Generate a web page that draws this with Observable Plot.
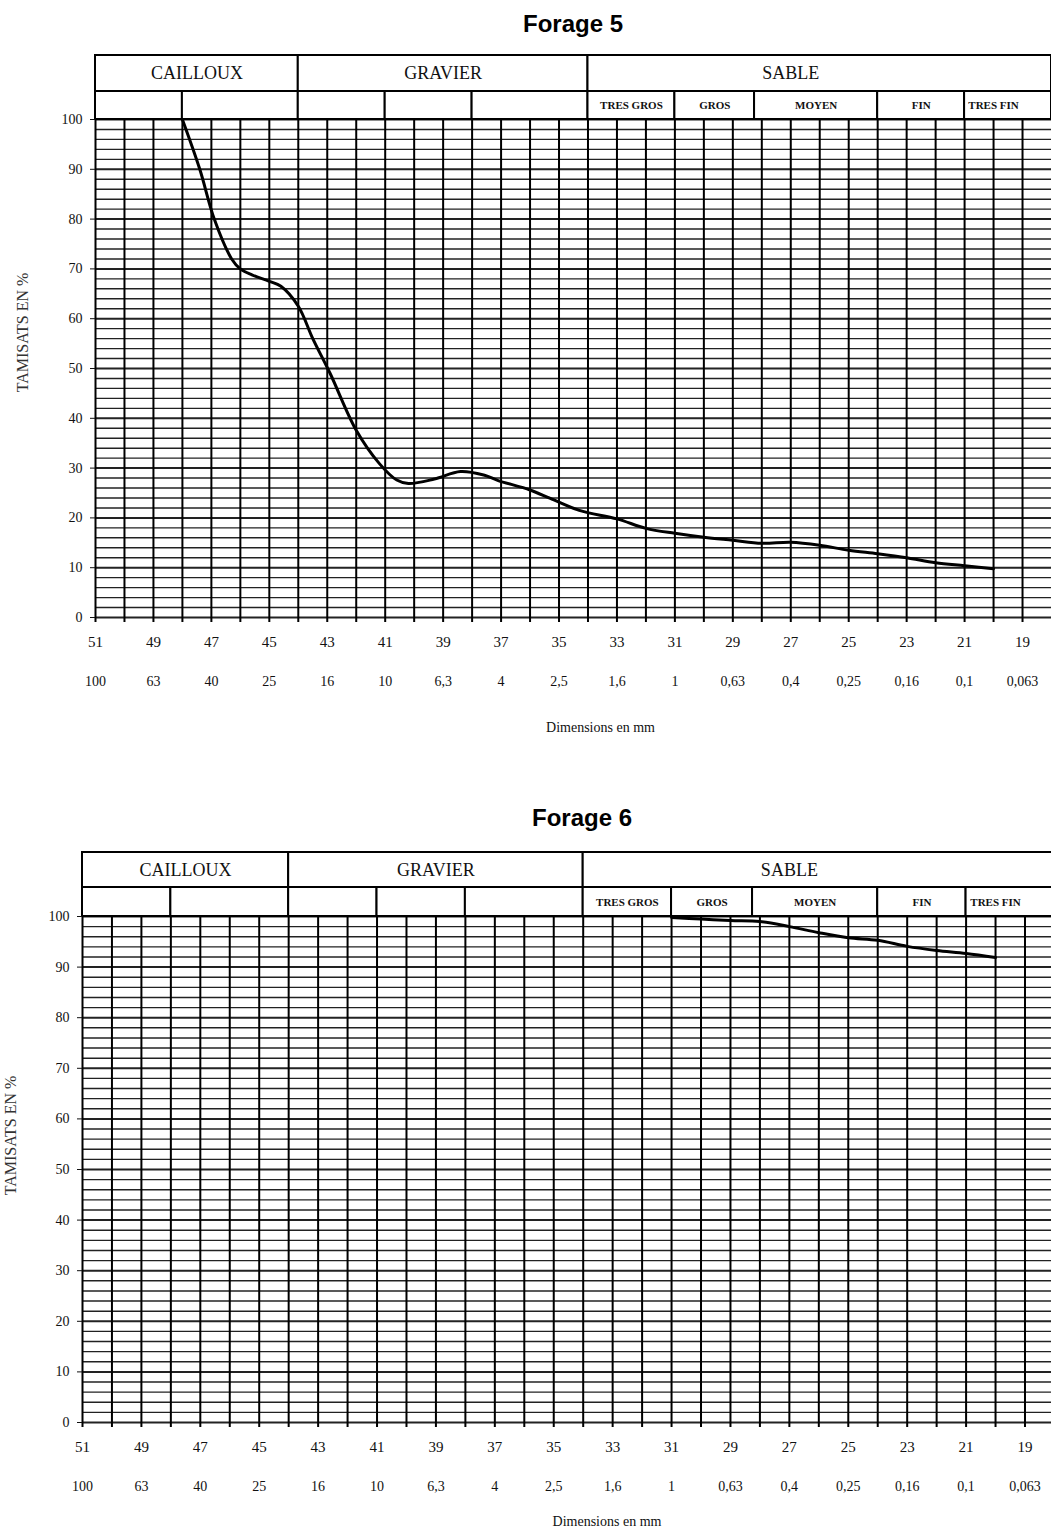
<!DOCTYPE html>
<html>
<head>
<meta charset="utf-8">
<script src="https://cdn.jsdelivr.net/npm/d3@7"></script>
<script src="https://cdn.jsdelivr.net/npm/@observablehq/plot@0.6"></script>
<style>
  body { margin: 0; background: #fff; overflow: hidden; width: 1051px; }
  .title { font-family: "Liberation Sans", Arial, sans-serif; font-weight: bold; font-size: 24px;
           height: 48px; line-height: 48px; text-align: center; color: #000; box-sizing: border-box; }
  svg { display: block; }
</style>
</head>
<body>
<div class="title" id="t1" style="padding-left:95px">Forage 5</div>
<div id="c1"></div>
<div class="title" id="t2" style="padding-left:113px">Forage 6</div>
<div id="c2"></div>
<script>
// ---- data ----
const oddTicks = [51, 49, 47, 45, 43, 41, 39, 37, 35, 33, 31, 29, 27, 25, 23, 21, 19];
const mmLabels = ["100", "63", "40", "25", "16", "10", "6,3", "4", "2,5", "1,6", "1", "0,63", "0,4", "0,25", "0,16", "0,1", "0,063"];
const yTicks = [0, 10, 20, 30, 40, 50, 60, 70, 80, 90, 100];

const mainClasses = ["CAILLOUX", "GRAVIER", "SABLE"];
const mainStart = [51, 44, 34];
const mainEnd = [44, 34, 18];

const subClasses = ["", "", "", "", "", "TRES GROS", "GROS", "MOYEN", "FIN", "TRES FIN"];
const subStart = [51, 48, 44, 41, 38, 34, 31, 28.25, 24, 21];
const subEnd = [48, 44, 41, 38, 34, 31, 28.25, 24, 21, 18];

const forage5X = [48, 47.4, 46.9, 46.3, 46.0, 45.6, 45.0, 44.6, 44.0, 43.5, 42.9, 42.0, 41.2, 40.6, 40.2, 39.3, 38.4, 37.6, 37.1, 36, 35.3, 34.3, 33, 32, 31, 30, 29, 28, 27, 26, 25, 24, 23, 22, 21, 20];
const forage5Y = [100, 90, 80, 72, 70, 68.8, 67.5, 66.5, 62.5, 56, 49, 37.6, 30.9, 27.6, 26.9, 27.8, 29.3, 28.6, 27.5, 25.6, 23.9, 21.5, 19.8, 17.9, 16.9, 16.1, 15.5, 14.9, 15.1, 14.5, 13.5, 12.8, 12.0, 11.0, 10.4, 9.8];

const forage6X = [31, 30, 29, 28, 27, 26, 25, 24, 23, 22, 21, 20];
const forage6Y = [99.8, 99.5, 99.2, 99.0, 98.0, 96.8, 95.8, 95.3, 94.1, 93.3, 92.7, 91.9];

// ---- drawing ----
function drawChart(cfg) {
  const pp = (cfg.height - cfg.marginTop - cfg.marginBottom) / 100;
  const yMid = 100 + cfg.subRowPx / pp;
  const yTop = 100 + cfg.headerPx / pp;
  const curve = cfg.xs.map((x, i) => ({x, y: cfg.ys[i]}));
  const mains = mainClasses.map((name, i) => ({name, x1: mainStart[i], x2: mainEnd[i]}));
  const subs = subClasses.map((name, i) => ({name, x1: subStart[i], x2: subEnd[i]}));
  const mainLabelX = d => (d.x1 + Math.max(d.x2, 20)) / 2;
  const subLabelX = d => (d.x1 + Math.max(d.x2, 19)) / 2;
  const hGrid = d3.range(0, 101, 2);
  const vGrid = d3.range(51, 18.5, -1);
  return Plot.plot({
    width: 1051,
    height: cfg.height,
    marginLeft: cfg.marginLeft,
    marginRight: 0,
    marginTop: cfg.marginTop,
    marginBottom: cfg.marginBottom,
    x: {domain: [51, cfg.xEnd]},
    y: {domain: [0, 100]},
    style: {background: "white", fontFamily: "'Liberation Serif', 'Times New Roman', serif", color: "#111", overflow: "visible"},
    marks: [
      Plot.ruleY(hGrid, {y: d => d, stroke: "#222", strokeWidth: d => (d % 10 === 0 ? 2 : 1.4)}),
      Plot.ruleX(vGrid, {x: d => d, y1: -1, y2: 100, stroke: "#000", strokeWidth: 2}),
      Plot.rect(subs, {x1: "x1", x2: "x2", y1: 100, y2: yMid, fill: "white", stroke: "#000", strokeWidth: 2}),
      Plot.rect(mains, {x1: "x1", x2: "x2", y1: yMid, y2: yTop, fill: "white", stroke: "#000", strokeWidth: 2}),
      Plot.text(mains, {x: mainLabelX, y: (yMid + yTop) / 2, text: "name", fontSize: 18, fill: "#111"}),
      Plot.text(subs, {x: subLabelX, y: (100 + yMid) / 2, text: "name", fontSize: 11, fontWeight: "bold", fill: "#111"}),
      Plot.axisY({ticks: yTicks, tickSize: 5, tickPadding: 8, fontSize: 14, label: null}),
      Plot.axisX({ticks: oddTicks, tickSize: 0, tickPadding: 19, fontSize: 15, label: null}),
      Plot.axisX({ticks: oddTicks, tickSize: 0, tickPadding: 59, fontSize: 14, label: null,
                  tickFormat: d => mmLabels[oddTicks.indexOf(d)]}),
      Plot.text(["Dimensions en mm"], {text: d => d, frameAnchor: "bottom", textAnchor: "middle", dx: cfg.dimDx, dy: cfg.dimDy, fontSize: 14, fill: "#111"}),
      Plot.text(["TAMISATS EN %"], {text: d => d, frameAnchor: "left", textAnchor: "middle", rotate: -90, dx: cfg.labDx, dy: cfg.labDy, fontSize: 16, fill: "#333"}),
      Plot.line(curve, {x: "x", y: "y", curve: "catmull-rom", stroke: "#000", strokeWidth: 3})
    ]
  });
}

document.getElementById("c1").append(drawChart({
  xs: forage5X, ys: forage5Y, marginLeft: 95, xEnd: 18, height: 746, marginTop: 71, marginBottom: 177,
  subRowPx: 28, headerPx: 64, labDx: -73, labDy: -36, dimDx: 27, dimDy: 114
}));
document.getElementById("c2").append(drawChart({
  xs: forage6X, ys: forage6Y, marginLeft: 82, xEnd: 18.1, height: 692, marginTop: 74, marginBottom: 112,
  subRowPx: 29, headerPx: 64, labDx: -72, labDy: -34, dimDx: 40, dimDy: 103
}));
</script>
</body>
</html>
